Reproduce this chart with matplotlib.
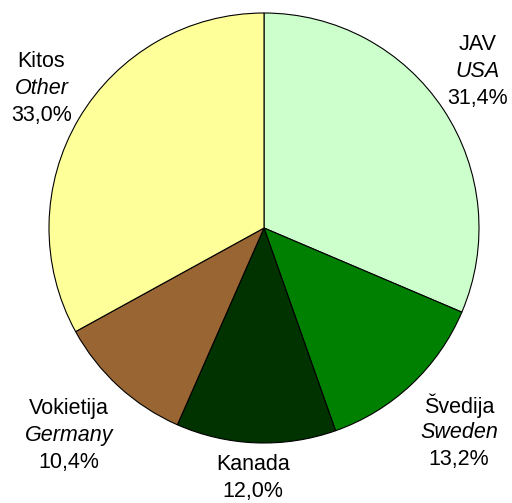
import matplotlib
matplotlib.use("Agg")
import matplotlib.pyplot as plt

plt.rcParams['font.family'] = ['Liberation Sans', 'DejaVu Sans']

# slices, clockwise from 12 o'clock
names_lt = ['JAV', 'Švedija', 'Kanada', 'Vokietija', 'Kitos']
names_en = ['USA', 'Sweden', '', 'Germany', 'Other']
shares = [31.4, 13.2, 12.0, 10.4, 33.0]
colors = ['#CCFFCC', '#008000', '#003300', '#996633', '#FFFF99']

# label centres (data units, pie radius = 1)
label_xy = [(0.995, 0.726), (0.907, -0.953), (-0.051, -1.163),
            (-0.907, -0.967), (-1.035, 0.647)]

fig = plt.figure(figsize=(5.12, 5.03), dpi=100)
ax = fig.add_axes([49 / 512, 60 / 503, 430 / 512, 430 / 503])

ax.pie(shares, colors=colors, startangle=90, counterclock=False,
       radius=1.0, wedgeprops=dict(edgecolor='black', linewidth=0.8))
ax.set_xlim(-1, 1)
ax.set_ylim(-1, 1)
ax.set_aspect('equal')
ax.axis('off')

step = 27 / 215.0
for lt, en, v, (x, y) in zip(names_lt, names_en, shares, label_xy):
    lines = [(lt, 'normal')]
    if en:
        lines.append((en, 'italic'))
    lines.append((('%.1f%%' % v).replace('.', ','), 'normal'))
    n = len(lines)
    for i, (txt, st) in enumerate(lines):
        yy = y + ((n - 1) / 2.0 - i) * step
        ax.text(x, yy, txt, ha='center', va='center', fontsize=15.5,
                style=st, clip_on=False)

fig.savefig('out.png', dpi=100)
